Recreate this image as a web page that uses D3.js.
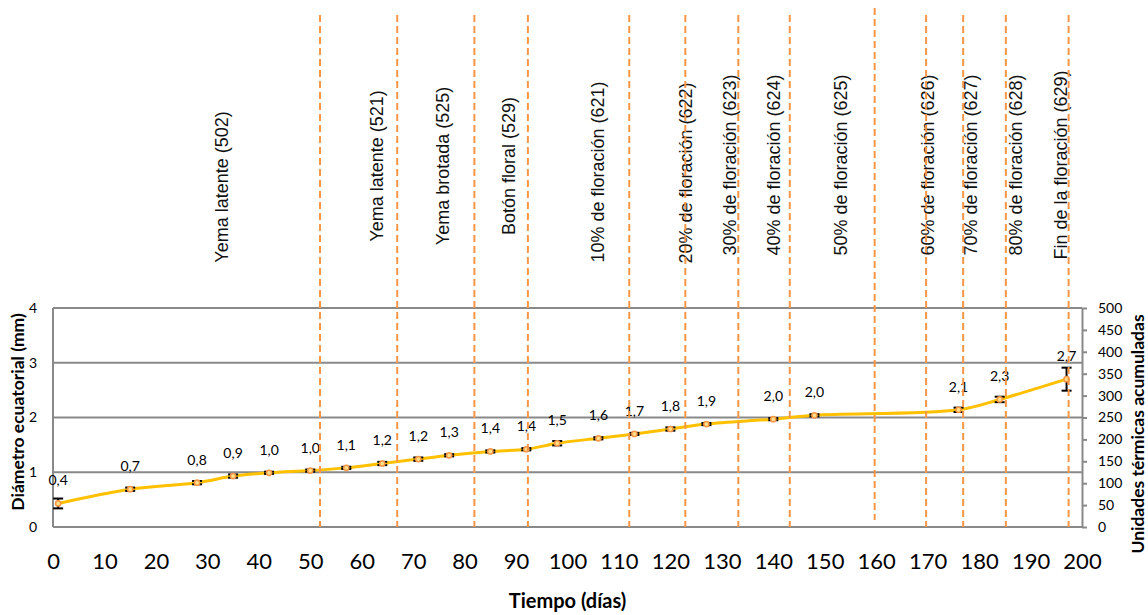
<!DOCTYPE html>
<html>
<head>
<meta charset="utf-8">
<script src="https://cdn.jsdelivr.net/npm/d3@7/dist/d3.min.js"></script>
<style>
  body { margin: 0; background: #fff; }
  svg { display: block; }
</style>
</head>
<body>
<svg id="chart" width="1148" height="615"></svg>
<script>
// Sampling dates (days) and mean equatorial diameter (mm) with its error
const days = [1, 15, 28, 35, 42, 50, 57, 64, 71, 77, 85, 92, 98, 106, 113, 120, 127, 140, 148, 176, 184, 197];
const diameter = [0.43, 0.69, 0.81, 0.93, 0.99, 1.03, 1.08, 1.16, 1.24, 1.31, 1.38, 1.42, 1.53, 1.62, 1.70, 1.79, 1.88, 1.97, 2.04, 2.14, 2.33, 2.70];
const diameterErr = [0.09, 0.03, 0.03, 0.03, 0.02, 0.02, 0.02, 0.03, 0.03, 0.02, 0.02, 0.02, 0.04, 0.02, 0.02, 0.03, 0.02, 0.02, 0.02, 0.04, 0.05, 0.21];

// Phenological stages (BBCH code) and the day each one was recorded
const stageNames = [
  "Yema latente (502)", "Yema latente (521)", "Yema brotada (525)", "Botón floral (529)",
  "10% de floración (621)", "20% de floración (622)", "30% de floración (623)",
  "40% de floración (624)", "50% de floración (625)", "60% de floración (626)",
  "70% de floración (627)", "80% de floración (628)", "Fin de la floración (629)"
];
const stageLineDays = [51.9, 66.9, 81.9, 92.3, 112.0, 122.9, 133.2, 143.2, 159.7, 169.7, 176.9, 185.2, 197.4];
const stageLabelDays = [32.9, 63.0, 75.8, 88.6, 105.9, 123.0, 131.5, 140.1, 153.1, 170.0, 178.5, 187.1, 196.0];

// Axis ticks
const xTicks = [0, 10, 20, 30, 40, 50, 60, 70, 80, 90, 100, 110, 120, 130, 140, 150, 160, 170, 180, 190, 200];
const leftTicks = [0, 1, 2, 3, 4];
const rightTicks = [0, 50, 100, 150, 200, 250, 300, 350, 400, 450, 500];

// Layout
const plot = { left: 53, right: 1082, top: 308, bottom: 527 };
const labelMidY = [187, 166, 166, 166, 172, 173, 165, 165, 165, 165, 165, 165, 165];
const lineTop = d => (d === 159.7 ? 8 : 15);
const lineBottom = d => (d === 159.7 ? 520 : plot.bottom);

const GRID = "#898989";
const ORANGE = "#F79646";
const YELLOW = "#FFC000";
const LABEL_FONT = "Lato, 'Open Sans', sans-serif";

const svg = d3.select("#chart");

const x = d3.scaleLinear().domain([0, 200]).range([plot.left, plot.right]);
const y = d3.scaleLinear().domain([0, 4]).range([plot.bottom, plot.top]);
const y2 = d3.scaleLinear().domain([0, 500]).range([plot.bottom, plot.top]);

// Horizontal gridlines at the left-axis ticks
svg.append("g")
  .selectAll("line")
  .data(leftTicks)
  .join("line")
  .attr("x1", plot.left).attr("x2", plot.right)
  .attr("y1", d => y(d)).attr("y2", d => y(d))
  .attr("stroke", GRID).attr("stroke-width", 2);

// Left axis line
svg.append("line")
  .attr("x1", plot.left).attr("x2", plot.left)
  .attr("y1", plot.top).attr("y2", plot.bottom)
  .attr("stroke", GRID).attr("stroke-width", 2);

// Left axis labels
const leftAxis = svg.append("g")
  .attr("transform", `translate(${plot.left - 16},0)`)
  .call(d3.axisLeft(y).tickValues(leftTicks).tickSize(0).tickPadding(0).tickFormat(d3.format("d")));
leftAxis.select(".domain").remove();
leftAxis.selectAll("text").attr("font-family", LABEL_FONT).attr("font-size", 14).attr("fill", "#000");

// Right axis (accumulated thermal units)
const rightAxis = svg.append("g")
  .attr("transform", `translate(${plot.right},0)`)
  .call(d3.axisRight(y2).tickValues(rightTicks).tickSize(5).tickSizeOuter(0).tickPadding(11));
rightAxis.select(".domain").attr("stroke", GRID).attr("stroke-width", 2);
rightAxis.selectAll(".tick line").attr("stroke", GRID).attr("stroke-width", 2);
rightAxis.selectAll("text").attr("font-family", LABEL_FONT).attr("font-size", 14).attr("fill", "#000");

// Bottom axis labels
const bottomAxis = svg.append("g")
  .attr("transform", `translate(0,${plot.bottom + 26})`)
  .call(d3.axisBottom(x).tickValues(xTicks).tickSize(0).tickPadding(0).tickFormat(d3.format("d")));
bottomAxis.select(".domain").remove();
bottomAxis.selectAll("text").attr("font-family", LABEL_FONT).attr("font-size", 22).attr("fill", "#000");

// Axis titles
svg.append("text")
  .attr("transform", `translate(17,412) rotate(-90)`)
  .attr("text-anchor", "middle").attr("dominant-baseline", "central")
  .attr("font-family", LABEL_FONT).attr("font-weight", 700).attr("font-size", 17.5)
  .text("Diámetro ecuatorial (mm)");

svg.append("text")
  .attr("transform", `translate(1137,434) rotate(-90)`)
  .attr("text-anchor", "middle").attr("dominant-baseline", "central")
  .attr("font-family", LABEL_FONT).attr("font-weight", 700).attr("font-size", 17.5)
  .text("Unidades térmicas acumuladas");

svg.append("text")
  .attr("x", (plot.left + plot.right) / 2).attr("y", 608)
  .attr("text-anchor", "middle")
  .attr("font-family", LABEL_FONT).attr("font-weight", 700).attr("font-size", 20)
  .text("Tiempo (días)");

// Stage names, written vertically
svg.append("g")
  .selectAll("text")
  .data(stageNames)
  .join("text")
  .attr("transform", (d, i) => `translate(${x(stageLabelDays[i])},${labelMidY[i]}) rotate(-90)`)
  .attr("text-anchor", "middle").attr("dominant-baseline", "central")
  .attr("font-family", "'Liberation Sans', Arial, sans-serif").attr("font-size", 18)
  .attr("fill", "#111")
  .text(d => d);

// Diameter series
const pts = days.map((d, i) => ({ day: d, v: diameter[i], e: diameterErr[i] }));

const line = d3.line()
  .x(d => x(d.day)).y(d => y(d.v))
  .curve(d3.curveCatmullRom.alpha(0.5));

svg.append("path")
  .datum(pts)
  .attr("d", line)
  .attr("fill", "none").attr("stroke", YELLOW).attr("stroke-width", 3)
  .attr("stroke-linejoin", "round");

// Error bars
const eb = svg.append("g").attr("stroke", "#000").attr("stroke-width", 2);
eb.selectAll("line.v").data(pts).join("line").attr("class", "v")
  .attr("x1", d => x(d.day)).attr("x2", d => x(d.day))
  .attr("y1", d => y(d.v - d.e)).attr("y2", d => y(d.v + d.e));
eb.selectAll("line.lo").data(pts).join("line").attr("class", "lo")
  .attr("x1", d => x(d.day) - 5).attr("x2", d => x(d.day) + 5)
  .attr("y1", d => y(d.v - d.e)).attr("y2", d => y(d.v - d.e));
eb.selectAll("line.hi").data(pts).join("line").attr("class", "hi")
  .attr("x1", d => x(d.day) - 5).attr("x2", d => x(d.day) + 5)
  .attr("y1", d => y(d.v + d.e)).attr("y2", d => y(d.v + d.e));

// Markers
svg.append("g")
  .selectAll("circle")
  .data(pts)
  .join("circle")
  .attr("cx", d => x(d.day)).attr("cy", d => y(d.v)).attr("r", 2.6)
  .attr("fill", "#FFE08A").attr("stroke", ORANGE).attr("stroke-width", 1.5);

// Value labels (decimal comma)
const fmt = v => d3.format(".1f")(v).replace(".", ",");
svg.append("g")
  .selectAll("text")
  .data(pts)
  .join("text")
  .attr("x", d => x(d.day)).attr("y", d => y(d.v) - 18)
  .attr("text-anchor", "middle")
  .attr("font-family", LABEL_FONT).attr("font-size", 14).attr("fill", "#000")
  .text(d => fmt(d.v));

// Dashed stage boundaries
svg.append("g")
  .selectAll("line")
  .data(stageLineDays)
  .join("line")
  .attr("x1", d => x(d)).attr("x2", d => x(d))
  .attr("y1", d => lineTop(d)).attr("y2", d => lineBottom(d))
  .attr("stroke", ORANGE).attr("stroke-width", 2)
  .attr("stroke-dasharray", "7,4");
</script>
</body>
</html>
